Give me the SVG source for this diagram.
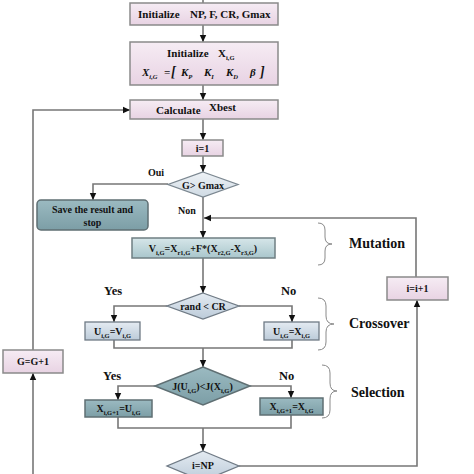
<svg xmlns="http://www.w3.org/2000/svg" width="474" height="474" viewBox="0 0 474 474">
<defs>
<linearGradient id="gPink" x1="0" y1="0" x2="0" y2="1"><stop offset="0" stop-color="#f6ecf4"/><stop offset="1" stop-color="#e8d3e3"/></linearGradient>
<linearGradient id="gTealDark" x1="0" y1="0" x2="0" y2="1"><stop offset="0" stop-color="#9bbac1"/><stop offset="1" stop-color="#7c9ea6"/></linearGradient>
<linearGradient id="gTealLight" x1="0" y1="0" x2="0" y2="1"><stop offset="0" stop-color="#d6e6e9"/><stop offset="1" stop-color="#a9c6cc"/></linearGradient>
<linearGradient id="gBlue" x1="0" y1="0" x2="0" y2="1"><stop offset="0" stop-color="#e4ebf2"/><stop offset="1" stop-color="#bccbd9"/></linearGradient>
<linearGradient id="gDiaLight" x1="0" y1="0" x2="0" y2="1"><stop offset="0" stop-color="#eef2f6"/><stop offset="1" stop-color="#cfdae3"/></linearGradient>
<marker id="ah" markerWidth="8" markerHeight="8" refX="7" refY="4" orient="auto" markerUnits="userSpaceOnUse"><path d="M0,0.8 L7,4 L0,7.2 z" fill="#111"/></marker>
</defs>
<style>
.pink{fill:url(#gPink);stroke:#8a8a8a;stroke-width:1.5}
.tdark{fill:url(#gTealDark);stroke:#5f6f73;stroke-width:1.5}
.tlight{fill:url(#gTealLight);stroke:#6f7f83;stroke-width:1.5}
.blue{fill:url(#gBlue);stroke:#6f7a85;stroke-width:1.3}
.dlight{fill:url(#gDiaLight);stroke:#7b8790;stroke-width:1.3}
.c{fill:none;stroke:#777;stroke-width:1.6}
.a{marker-end:url(#ah)}
.br{fill:none;stroke:#8a8a8a;stroke-width:1}
text{font-family:"Liberation Serif","Times New Roman",Times,"DejaVu Serif",serif;font-weight:bold;fill:#111}
.t{font-size:11px}
.ts{font-size:10px}
.lab{font-size:12.5px}
.big{font-size:14px}
.sub{font-size:6.5px;baseline-shift:-2.5px}
.m{text-anchor:middle}
</style>
<g id="connectors">
<path class="c" d="M203,0 V3"/>
<path class="c a" d="M203,25 V42"/>
<path class="c a" d="M203,85 V100"/>
<path class="c a" d="M33,350 V110 H130"/>
<path class="c a" d="M203,119 V140"/>
<path class="c a" d="M203,156 V172"/>
<path class="c a" d="M168,184 H93 V200"/>
<path class="c a" d="M203,197 V238"/>
<path class="c a" d="M416,277 V218 H204"/>
<path class="c a" d="M203,258 V293"/>
<path class="c a" d="M167,306 H114 V322"/>
<path class="c a" d="M239,306 H292 V322"/>
<path class="c" d="M114,340 V348 H292 V340"/>
<path class="c a" d="M203,348 V367"/>
<path class="c a" d="M155,386 H118 V400"/>
<path class="c a" d="M250,386 H291 V398"/>
<path class="c" d="M118,417 V428 H291 V415"/>
<path class="c a" d="M203,428 V451"/>
<path class="c a" d="M239,466 H417 V300"/>
<path class="c a" d="M33,474 V373"/>
</g>
<g id="init1"><rect class="pink" x="130" y="3" width="148" height="22"/><text class="t" x="138" y="18">Initialize<tspan x="190">NP, F, CR, Gmax</tspan></text></g>
<g id="init2"><rect class="pink" x="130" y="42" width="148" height="43"/>
<text class="t" x="167" y="57">Initialize<tspan x="218">X</tspan><tspan class="sub">i,G</tspan></text>
<text class="t" x="142" y="76" font-style="italic">X<tspan class="sub">i,G</tspan><tspan x="164">=</tspan><tspan x="171" font-size="14px">[</tspan><tspan x="181">K</tspan><tspan class="sub">P</tspan><tspan x="204">K</tspan><tspan class="sub">I</tspan><tspan x="226">K</tspan><tspan class="sub">D</tspan><tspan x="250">β</tspan><tspan x="260" font-size="14px">]</tspan></text></g>
<g id="calc"><rect class="pink" x="130" y="100" width="148" height="19"/><text class="t" x="156" y="114">Calculate</text><text class="t" x="209" y="111">Xbest</text></g>
<g id="i1"><rect class="pink" x="182" y="140" width="41" height="16"/><text class="ts m" x="202.5" y="152">i=1</text></g>
<g id="gmax"><polygon class="dlight" points="203,172 238,184.5 203,197 168,184.5"/><text class="ts m" x="203" y="188.5">G&gt; Gmax</text></g>
<text class="ts" x="148" y="176">Oui</text>
<text class="ts" x="178" y="214">Non</text>
<g id="save"><rect class="tdark" x="37" y="200" width="111" height="30" rx="4"/><text class="ts m" x="92.5" y="212.5">Save the result and</text><text class="ts m" x="92.5" y="225.5">stop</text></g>
<g id="mutation"><rect class="tlight" x="132" y="238" width="143" height="20"/>
<text class="ts m" x="203" y="251.5">V<tspan class="sub">i,G</tspan>=X<tspan class="sub">r1,G</tspan>+F*(X<tspan class="sub">r2,G</tspan>-X<tspan class="sub">r3,G</tspan>)</text></g>
<g id="iinc"><rect class="pink" x="387" y="277" width="61" height="23"/><text class="ts m" x="417.5" y="292">i=i+1</text></g>
<g id="rand"><polygon class="blue" points="203,293 239,306 203,319 167,306"/><text class="ts m" x="203" y="310">rand &lt; CR</text></g>
<text class="lab" x="104" y="295">Yes</text>
<text class="lab" x="281" y="295">No</text>
<g id="uv"><rect class="blue" x="85" y="322" width="55" height="18"/><text class="ts m" x="112.5" y="334.5">U<tspan class="sub">i,G</tspan>=V<tspan class="sub">i,G</tspan></text></g>
<g id="ux"><rect class="blue" x="264" y="322" width="55" height="18"/><text class="ts m" x="291.5" y="334.5">U<tspan class="sub">i,G</tspan>=X<tspan class="sub">i,G</tspan></text></g>
<g id="gg"><rect class="pink" x="3" y="350" width="60" height="23"/><text class="ts m" x="33" y="365">G=G+1</text></g>
<g id="jsel"><polygon class="tdark" points="203,367 250,386 203,405 155,386"/><text class="ts m" x="202.5" y="390">J(U<tspan class="sub">i,G</tspan>)&lt;J(X<tspan class="sub">i,G</tspan>)</text></g>
<text class="lab" x="103" y="380">Yes</text>
<text class="lab" x="279" y="380">No</text>
<g id="xu"><rect class="tdark" x="85" y="400" width="67" height="17"/><text class="ts m" x="118.5" y="412">X<tspan class="sub">i,G+1</tspan>=U<tspan class="sub">i,G</tspan></text></g>
<g id="xx"><rect class="tdark" x="260" y="398" width="63" height="17"/><text class="ts m" x="291.5" y="410">X<tspan class="sub">i,G+1</tspan>=X<tspan class="sub">i,G</tspan></text></g>
<g id="inp"><polygon class="blue" points="203,451 239,466 203,481 167,466"/><text class="ts m" x="203" y="469">i=NP</text></g>
<g id="braces">
<path class="br" d="M318,223 Q325,223 325,230 V237 Q325,244 332,244 Q325,244 325,251 V258 Q325,265 318,265"/>
<path class="br" d="M318,298 Q326,298 326,306 V316 Q326,324 334,324 Q326,324 326,332 V342 Q326,350 318,350"/>
<path class="br" d="M322,365 Q330,365 330,373 V383 Q330,391 337,391 Q330,391 330,399 V410 Q330,418 322,418"/>
</g>
<text class="big" x="349" y="248">Mutation</text>
<text class="big" x="349" y="328">Crossover</text>
<text class="big" x="351" y="397">Selection</text>
</svg>
